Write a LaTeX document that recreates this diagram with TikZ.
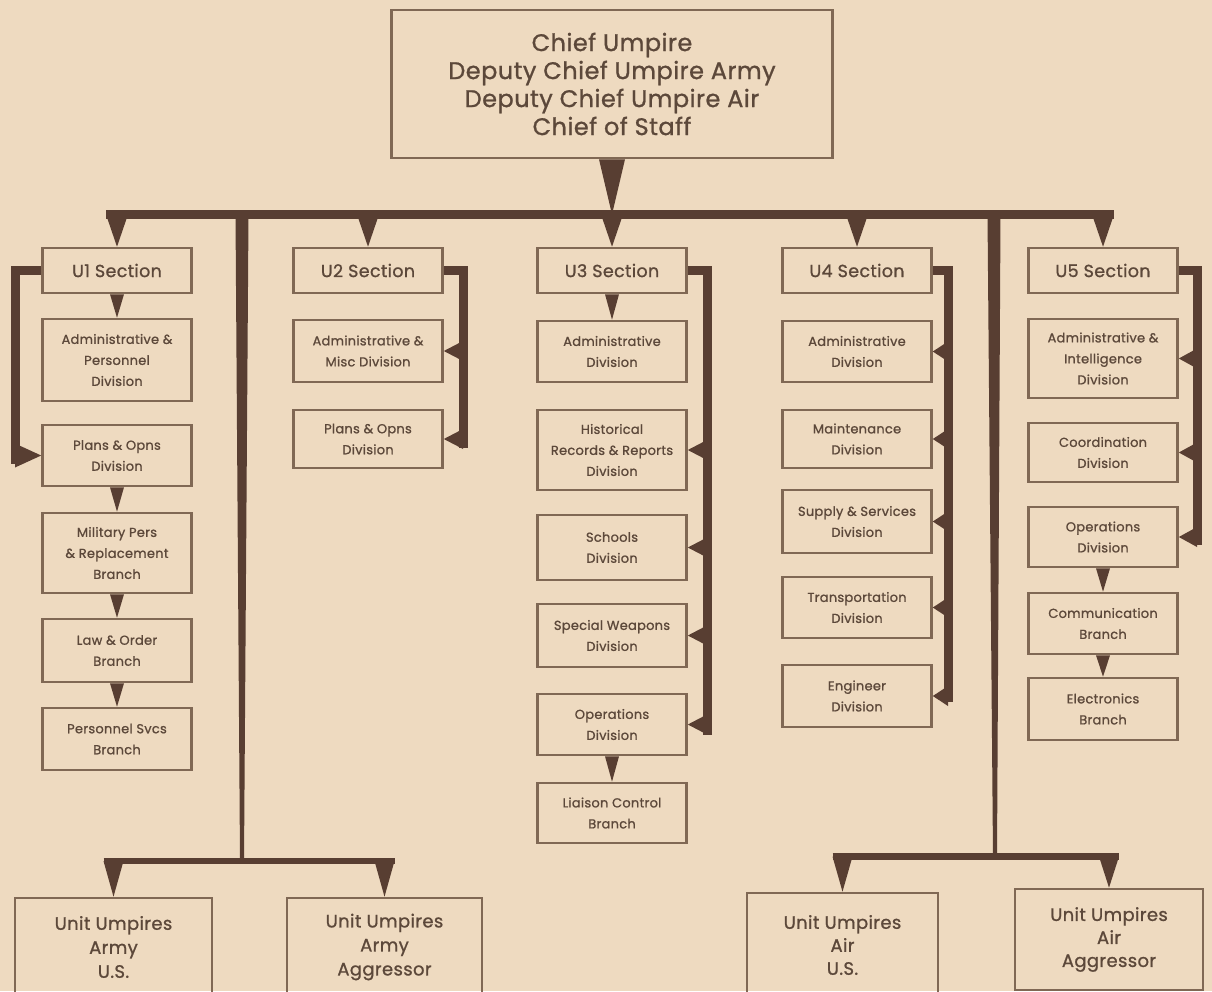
\documentclass[tikz,border=0pt]{standalone}
\usepackage{fontspec}
\setmainfont{Poppins}[FakeBold=1.0, LetterSpace=2]
\usepackage{tikz}
\usetikzlibrary{calc}

\definecolor{paper}{RGB}{238,218,192}
\definecolor{ink}{RGB}{88,62,50}
\definecolor{edge}{RGB}{128,104,84}
\definecolor{lettering}{RGB}{92,72,58}

% wedge hanging from a bar: top point, tip, half width
\newcommand{\hangtip}[3]{\fill[wedge] ($(#1)+(-#3,0)$) -- ($(#1)+(#3,0)$) -- (#2) -- cycle;}
% wedge off a bracket: tip anchor, bracket coordinate, half height
\newcommand{\sidetip}[3]{\fill[wedge] (#1) -- ($(#1 -| #2)+(0,-#3)$) -- ($(#1 -| #2)+(0,#3)$) -- cycle;}

\begin{document}
\begin{tikzpicture}[
        x=1pt, y=-1pt,
        box/.style={draw=edge, line width=2.6pt, text=lettering, align=center,
            inner sep=0pt, minimum width=149pt},
        sect/.style={box, minimum height=45pt, font=\fontsize{17.5}{20}\selectfont},
        div/.style={box, font=\fontsize{13}{21}\selectfont},
        unit/.style={box, font=\fontsize{18}{24}\selectfont},
        trunk/.style={draw=ink, line width=9pt},
        wedge/.style={fill=ink},
    ]
    \fill[paper] (0,0) rectangle (1212,991);
    \useasboundingbox (0,0) rectangle (1212,991);

    % top
    \node[box, minimum width=441pt, minimum height=148pt,
          font=\fontsize{24}{28}\selectfont] (chief) at (612,84)
          {Chief Umpire\\Deputy Chief Umpire Army\\Deputy Chief Umpire Air\\Chief of Staff};

    % sections
    \node[sect] (u1) at (117,270.5) {U1 Section};
    \node[sect] (u2) at (368,270.5) {U2 Section};
    \node[sect] (u3) at (612,270.5) {U3 Section};
    \node[sect] (u4) at (857,270.5) {U4 Section};
    \node[sect] (u5) at (1103,270.5) {U5 Section};

    % U1
    \node[div, minimum height=82pt] (u1a) at (117,360) {Administrative \&\\Personnel\\Division};
    \node[div, minimum height=61pt] (u1b) at (117,455.5) {Plans \& Opns\\Division};
    \node[div, minimum height=80pt] (u1c) at (117,553) {Military Pers\\\& Replacement\\Branch};
    \node[div, minimum height=63pt] (u1d) at (117,650.5) {Law \& Order\\Branch};
    \node[div, minimum height=62pt] (u1e) at (117,739) {Personnel Svcs\\Branch};

    % U2
    \node[div, minimum height=62pt] (u2a) at (368,351) {Administrative \&\\Misc Division};
    \node[div, minimum height=58pt] (u2b) at (368,439) {Plans \& Opns\\Division};

    % U3
    \node[div, minimum height=61pt] (u3a) at (612,351.5) {Administrative\\Division};
    \node[div, minimum height=80pt] (u3b) at (612,450) {Historical\\Records \& Reports\\Division};
    \node[div, minimum height=65pt] (u3c) at (612,547.5) {Schools\\Division};
    \node[div, minimum height=63pt] (u3d) at (612,635.5) {Special Weapons\\Division};
    \node[div, minimum height=61pt] (u3e) at (612,724.5) {Operations\\Division};
    \node[div, minimum height=60pt] (u3f) at (612,813) {Liaison Control\\Branch};

    % U4
    \node[div, minimum height=61pt] (u4a) at (857,351.5) {Administrative\\Division};
    \node[div, minimum height=58pt] (u4b) at (857,439) {Maintenance\\Division};
    \node[div, minimum height=63pt] (u4c) at (857,521.5) {Supply \& Services\\Division};
    \node[div, minimum height=61pt] (u4d) at (857,607.5) {Transportation\\Division};
    \node[div, minimum height=62pt] (u4e) at (857,696) {Engineer\\Division};

    % U5
    \node[div, minimum height=79pt] (u5a) at (1103,358.5) {Administrative \&\\Intelligence\\Division};
    \node[div, minimum height=59pt] (u5b) at (1103,452.5) {Coordination\\Division};
    \node[div, minimum height=60pt] (u5c) at (1103,537) {Operations\\Division};
    \node[div, minimum height=61pt] (u5d) at (1103,623.5) {Communication\\Branch};
    \node[div, minimum height=62pt] (u5e) at (1103,709) {Electronics\\Branch};

    % unit umpires
    \node[unit, minimum width=197pt, minimum height=98pt] (armyus) at (113.5,947) {Unit Umpires\\Army\\U.S.};
    \node[unit, minimum width=195pt, minimum height=98pt] (armyagg) at (384.5,947) {Unit Umpires\\Army\\Aggressor};
    \node[unit, minimum width=191pt, minimum height=104pt, font=\fontsize{18}{23}\selectfont] (airus) at (842.5,945) {Unit Umpires\\Air\\U.S.};
    \node[unit, minimum width=188pt, minimum height=101pt, font=\fontsize{18}{23}\selectfont] (airagg) at (1109,939.5) {Unit Umpires\\Air\\Aggressor};

    % main bar
    \coordinate (bar) at (612,214.5);
    \coordinate (vL) at (242,214.5);
    \coordinate (vR) at (994,214.5);
    \coordinate (lowL) at (242,861);
    \coordinate (lowR) at (995,856.5);
    \draw[trunk] ($(u1.north |- bar)+(-11,0)$) -- ($(u5.north |- bar)+(11,0)$);
    \hangtip{chief.south}{bar}{13}
    \foreach \s in {u1,u2,u3,u4,u5}
        {\hangtip{\s.north |- bar}{\s.north}{11}}

    % brackets
    \coordinate (k1) at (15,464);
    \coordinate (k2) at (463,448);
    \coordinate (k3) at (707,735);
    \coordinate (k4) at (948,702);
    \coordinate (k5) at (1197,545);
    \draw[trunk] (u1.west) -| (k1);
    \draw[trunk] (u2.east) -| (k2);
    \draw[trunk] (u3.east) -| (k3);
    \draw[trunk] (u4.east) -| (k4);
    \draw[trunk] (u5.east) -| (k5);
    \sidetip{u1b.west}{k1}{12}
    \foreach \d in {u2a,u2b}
        {\sidetip{\d.east}{k2}{10}}
    \foreach \d in {u3b,u3c,u3d,u3e}
        {\sidetip{\d.east}{k3}{10}}
    \foreach \d in {u4a,u4b,u4c,u4d,u4e}
        {\sidetip{\d.east}{k4}{10}}
    \foreach \d in {u5a,u5b,u5c}
        {\sidetip{\d.east}{k5}{10}}

    % chains
    \hangtip{u1.south}{u1a.north}{7}
    \hangtip{u1b.south}{u1c.north}{7}
    \hangtip{u1c.south}{u1d.north}{7}
    \hangtip{u1d.south}{u1e.north}{7}
    \hangtip{u3.south}{u3a.north}{7}
    \hangtip{u3e.south}{u3f.north}{7}
    \hangtip{u5c.south}{u5d.north}{7}
    \hangtip{u5d.south}{u5e.north}{7}

    % down to unit umpires
    \fill[wedge] ($(vL)+(-6.5,0)$) -- ($(vL)+(6.5,0)$) -- ($(lowL)+(2,0)$) -- ($(lowL)+(-2,0)$) -- cycle;
    \fill[wedge] ($(vR)+(-6.5,0)$) -- ($(vR)+(6.5,0)$) -- ($(lowR)+(2,0)$) -- ($(lowR)+(-2,0)$) -- cycle;
    \draw[trunk, line width=6.5pt] ($(armyus.north |- lowL)+(-10,0)$) -- ($(armyagg.north |- lowL)+(10,0)$);
    \draw[trunk, line width=6.5pt] ($(airus.north |- lowR)+(-10,0)$) -- ($(airagg.north |- lowR)+(10,0)$);
    \hangtip{armyus.north |- lowL}{armyus.north}{10}
    \hangtip{armyagg.north |- lowL}{armyagg.north}{10}
    \hangtip{airus.north |- lowR}{airus.north}{10}
    \hangtip{airagg.north |- lowR}{airagg.north}{10}
\end{tikzpicture}
\end{document}
